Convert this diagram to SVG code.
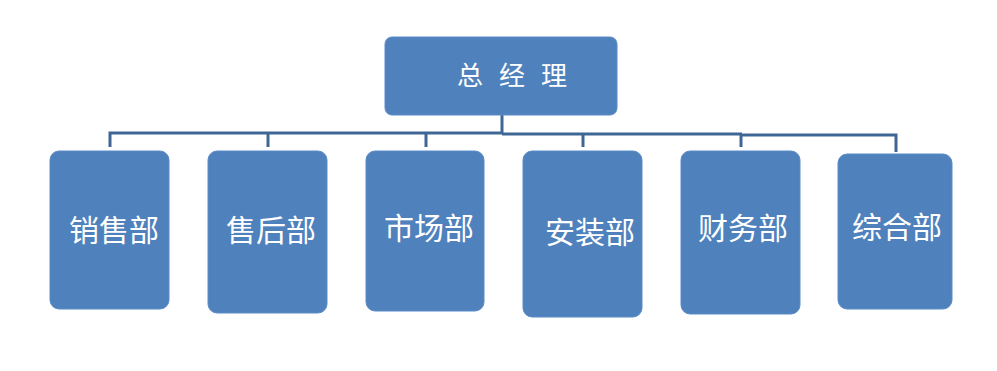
<svg xmlns="http://www.w3.org/2000/svg" width="997" height="371" viewBox="0 0 997 371">
<style>
.box{fill:#4F81BD;stroke:#5B8CC6;stroke-width:1}
.lbl{font-family:"Noto Sans CJK SC","Noto Sans",sans-serif;fill:#fff;font-size:30px}
.ttl{font-family:"Noto Sans CJK SC","Noto Sans",sans-serif;fill:#fff;font-size:26px;letter-spacing:16px}
.con{fill:none;stroke:#3E6796;stroke-width:3}
</style>
<rect width="997" height="371" fill="#fff"/>
<g id="connectors">
<path class="con" d="M502 115 V134"/>
<path class="con" d="M110 147 V133 H502"/>
<path class="con" d="M502 134 H742"/>
<path class="con" d="M742 135 H896 V152"/>
<path class="con" d="M268 133 V147"/>
<path class="con" d="M426 133 V147"/>
<path class="con" d="M583 134 V147"/>
<path class="con" d="M741 134 V147"/>
</g>
<g id="gm">
<rect class="box" x="385" y="37" width="232" height="78" rx="7"/>
<text class="ttl" x="457" y="85">总经理</text>
</g>
<g id="sales">
<rect class="box" x="50" y="151" width="119" height="158" rx="9"/>
<text class="lbl" x="114" y="241" text-anchor="middle">销售部</text>
</g>
<g id="aftersales">
<rect class="box" x="208" y="151" width="119" height="162" rx="9"/>
<text class="lbl" x="271" y="241" text-anchor="middle">售后部</text>
</g>
<g id="market">
<rect class="box" x="366" y="151" width="118" height="160" rx="9"/>
<text class="lbl" x="429" y="239" text-anchor="middle">市场部</text>
</g>
<g id="install">
<rect class="box" x="523" y="151" width="119" height="166" rx="9"/>
<text class="lbl" x="590" y="243" text-anchor="middle">安装部</text>
</g>
<g id="finance">
<rect class="box" x="681" y="151" width="119" height="163" rx="9"/>
<text class="lbl" x="743" y="239" text-anchor="middle">财务部</text>
</g>
<g id="general">
<rect class="box" x="838" y="154" width="114" height="155" rx="9"/>
<text class="lbl" x="897" y="238" text-anchor="middle">综合部</text>
</g>
</svg>
